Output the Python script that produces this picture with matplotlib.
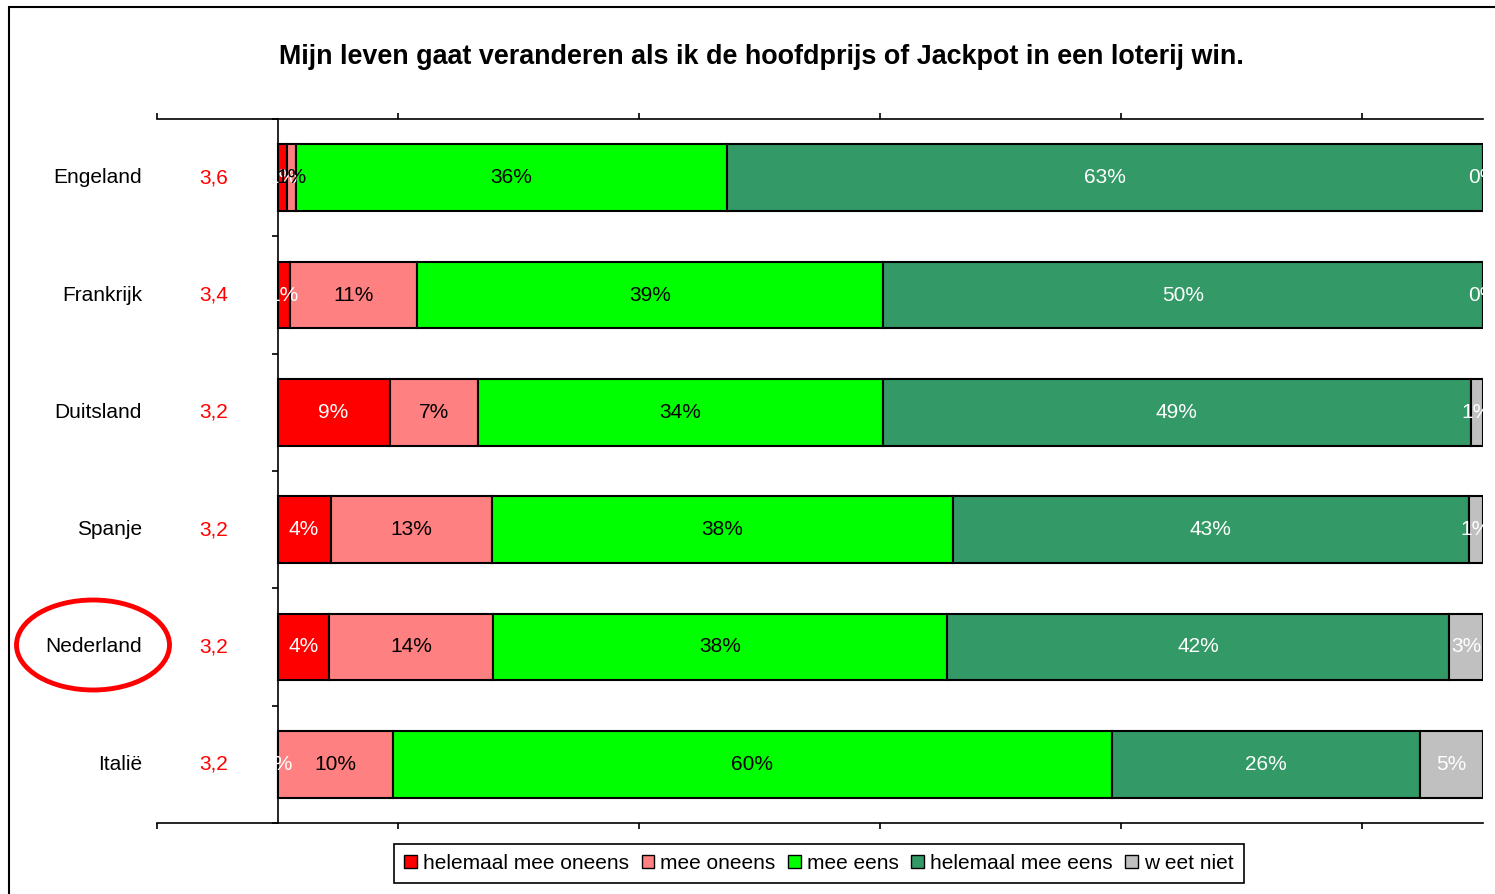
import numpy as np
import matplotlib
matplotlib.use("Agg")
import matplotlib.pyplot as plt
from matplotlib.patches import Ellipse, Rectangle, Patch
from matplotlib.transforms import Bbox, TransformedBbox

plt.rcParams['font.family'] = ['Liberation Sans', 'DejaVu Sans']

# Data (percentages per answer, top to bottom)
countries = ['Engeland', 'Frankrijk', 'Duitsland', 'Spanje', 'Nederland', 'Italië']
scores = ['3,6', '3,4', '3,2', '3,2', '3,2', '3,2']
answers = ['helemaal mee oneens', 'mee oneens', 'mee eens', 'helemaal mee eens', 'w eet niet']
helemaal_oneens = [0.8, 1.0, 9.3, 4.4, 4.3, 0.0]
oneens = [0.7, 10.6, 7.3, 13.4, 13.6, 9.6]
eens = [35.8, 38.6, 33.6, 38.2, 37.6, 59.6]
helemaal_eens = [62.7, 49.8, 48.8, 42.8, 41.7, 25.6]
weet_niet = [0.0, 0.0, 1.0, 1.2, 2.8, 5.2]

series = [helemaal_oneens, oneens, eens, helemaal_eens, weet_niet]
colors = ['#FF0000', '#FF8080', '#00FF00', '#339966', '#C0C0C0']
label_colors = ['white', 'black', 'black', 'white', 'white']

fig = plt.figure(figsize=(14.95, 8.94), dpi=100)
ax = fig.add_axes([157 / 1495, 1 - 823 / 894, (1483 - 157) / 1495, (823 - 119) / 894])

y = np.arange(len(countries))
left = np.zeros(len(countries))

# clip labels to the 0-100 region like the original
clip = TransformedBbox(Bbox([[0, -0.5], [100, len(countries) - 0.5]]), ax.transData)

for vals, col, lcol in zip(series, colors, label_colors):
    vals = np.array(vals)
    ax.barh(y, vals, left=left, height=0.57, color=col, edgecolor='black', linewidth=1.5, zorder=2)
    for yi, l, v in zip(y, left, vals):
        t = ax.text(l + v / 2, yi, f"{v:.0f}%", ha='center', va='center', color=lcol,
                    fontsize=15, zorder=3)
        t.set_clip_box(clip)
    left = left + vals

ax.set_xlim(-10, 100)
ax.set_ylim(len(countries) - 0.5, -0.5)

# axes styling
ax.spines['right'].set_visible(False)
ax.spines['left'].set_position(('data', 0))
for s in ['top', 'bottom', 'left']:
    ax.spines[s].set_linewidth(1.2)
ax.set_xticks([-10, 10, 30, 50, 70, 90])
ax.set_xticklabels([])
ax.tick_params(axis='x', top=True, bottom=True, direction='out', length=4, width=1.2)
ax.set_yticks(np.arange(-0.5, len(countries), 1))
ax.set_yticklabels([])
ax.tick_params(axis='y', direction='out', length=4, width=1.2)

for yi, c, s in zip(y, countries, scores):
    ax.text(-11.25, yi, c, ha='right', va='center', fontsize=15, clip_on=False)
    ax.text(-5.3, yi, s, ha='center', va='center', fontsize=15, color='#FF0000', clip_on=False)

# highlight Nederland
fig.add_artist(Ellipse((93 / 1495, 1 - 645 / 894), 153 / 1495, 90 / 894, transform=fig.transFigure,
                       fill=False, edgecolor='#FF0000', linewidth=3.5))

fig.text(761 / 1495, 1 - 57 / 894,
         'Mijn leven gaat veranderen als ik de hoofdprijs of Jackpot in een loterij win.',
         ha='center', va='center', fontsize=19.4, fontweight='bold')

handles = [Patch(facecolor=c, edgecolor='black', linewidth=1) for c in colors]
leg = fig.legend(handles, answers, loc='center', bbox_to_anchor=(819 / 1495, 1 - 863.5 / 894), ncol=5,
                 fontsize=15, frameon=True, fancybox=False, edgecolor='black', framealpha=1,
                 handlelength=0.6, handleheight=0.6, handletextpad=0.3, columnspacing=0.6,
                 borderpad=0.5)
leg.get_frame().set_linewidth(1.2)

# outer chart border
fig.add_artist(Rectangle((9 / 1495, -0.1), 1.2, 1.1 - 7 / 894, transform=fig.transFigure,
                         fill=False, edgecolor='black', linewidth=1.5))

fig.savefig('out.png', dpi=100)
